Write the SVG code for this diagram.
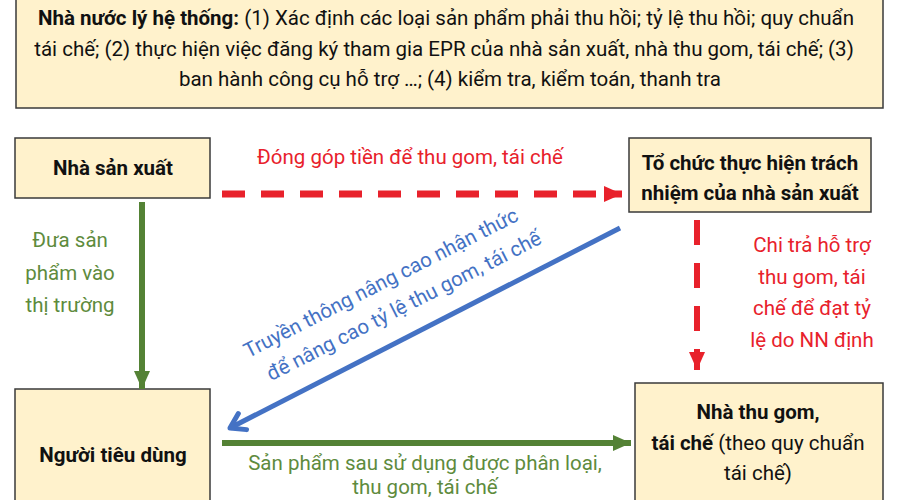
<svg xmlns="http://www.w3.org/2000/svg" width="900" height="500" viewBox="0 0 900 500">
<defs>
<style>
.box{fill:#FFF2CC;stroke:#3a3a3a;stroke-width:1.5}
.t{font-family:Roboto,"Noto Sans","DejaVu Sans",sans-serif;font-size:20.5px;fill:#111;text-anchor:middle}
.b{font-weight:bold}
.red{fill:#E8212B}
.grn{fill:#5E8B3D}
.blu{fill:#4472C4}
</style>
<marker id="mr" markerUnits="userSpaceOnUse" markerWidth="20" markerHeight="18" refX="18" refY="8" orient="auto"><path d="M0,0 L18,8 L0,16 Z" fill="#E8212B"/></marker>
<marker id="mg" markerUnits="userSpaceOnUse" markerWidth="20" markerHeight="18" refX="18" refY="8" orient="auto"><path d="M0,0 L18,8 L0,16 Z" fill="#548235"/></marker>
<marker id="mb" markerUnits="userSpaceOnUse" markerWidth="24" markerHeight="24" refX="20" refY="12" orient="auto"><path d="M6,3 L20,12 L6,21" fill="none" stroke="#4472C4" stroke-width="5" stroke-linecap="round" stroke-linejoin="round"/></marker>
</defs>
<rect width="900" height="500" fill="#fff"/>

<g id="state">
<rect class="box" x="16" y="-4" width="867" height="112"/>
<text class="t" x="446" y="25"><tspan class="b">Nhà nước lý hệ thống:</tspan> (1) Xác định các loại sản phẩm phải thu hồi; tỷ lệ thu hồi; quy chuẩn</text>
<text class="t" x="444" y="56">tái chế; (2) thực hiện việc đăng ký tham gia EPR của nhà sản xuất, nhà thu gom, tái chế; (3)</text>
<text class="t" x="450" y="86">ban hành công cụ hỗ trợ …; (4) kiểm tra, kiểm toán, thanh tra</text>
</g>

<g id="producer">
<rect class="box" x="15" y="138" width="195" height="60"/>
<text class="t b" x="113" y="175">Nhà sản xuất</text>
</g>

<g id="pro">
<rect class="box" x="629" y="138" width="242" height="74"/>
<text class="t b" x="750" y="170">Tổ chức thực hiện trách</text>
<text class="t b" x="750" y="200">nhiệm của nhà sản xuất</text>
</g>

<g id="consumer">
<rect class="box" x="15" y="389" width="195" height="120"/>
<text class="t b" x="113" y="462">Người tiêu dùng</text>
</g>

<g id="collector">
<rect class="box" x="635" y="383" width="248" height="125"/>
<text class="t b" x="758" y="419">Nhà thu gom,</text>
<text class="t" x="758" y="450"><tspan class="b">tái chế</tspan> (theo quy chuẩn</text>
<text class="t" x="758" y="480">tái chế)</text>
</g>

<g id="connectors">
<line x1="222" y1="194" x2="622" y2="194" stroke="#E8212B" stroke-width="7" stroke-dasharray="23 16" marker-end="url(#mr)"/>
<line x1="697" y1="220" x2="697" y2="370" stroke="#E8212B" stroke-width="6" stroke-dasharray="25 18" marker-end="url(#mr)"/>
<line x1="142" y1="202" x2="142" y2="389" stroke="#548235" stroke-width="6" marker-end="url(#mg)"/>
<line x1="222" y1="443" x2="631" y2="443" stroke="#548235" stroke-width="6" marker-end="url(#mg)"/>
<line x1="620" y1="228" x2="230" y2="428" stroke="#4472C4" stroke-width="5" marker-end="url(#mb)"/>
</g>

<g id="labels">
<text class="t red" x="410" y="164">Đóng góp tiền để thu gom, tái chế</text>
<text class="t red" x="812" y="252">Chi trả hỗ trợ</text>
<text class="t red" x="812" y="284">thu gom, tái</text>
<text class="t red" x="812" y="315">chế để đạt tỷ</text>
<text class="t red" x="812" y="347">lệ do NN định</text>
<text class="t grn" x="70" y="247">Đưa sản</text>
<text class="t grn" x="70" y="280">phẩm vào</text>
<text class="t grn" x="70" y="312">thị trường</text>
<text class="t grn" x="425" y="470">Sản phẩm sau sử dụng được phân loại,</text>
<text class="t grn" x="425" y="494">thu gom, tái chế</text>
<g transform="translate(384,289) rotate(-27)">
<text class="t blu" x="0" y="0">Truyền thông nâng cao nhận thức</text>
<text class="t blu" x="10" y="31">để nâng cao tỷ lệ thu gom, tái chế</text>
</g>
</g>
</svg>
